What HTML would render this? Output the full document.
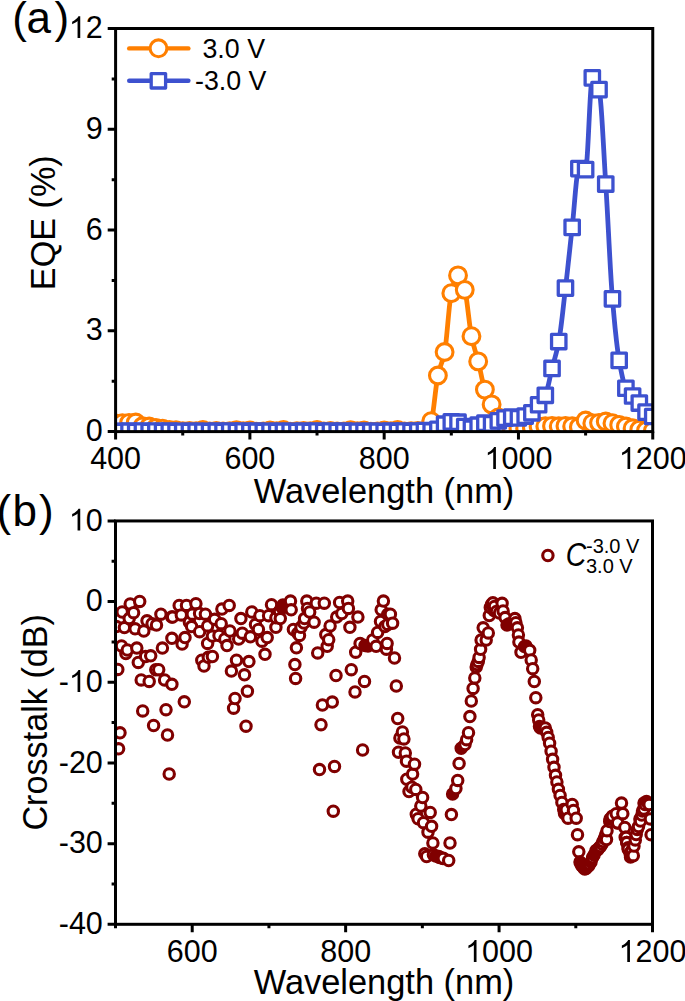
<!DOCTYPE html><html><head><meta charset="utf-8"><style>html,body{margin:0;padding:0;background:#fff;}svg{display:block;}text{font-family:"Liberation Sans",sans-serif;}</style></head><body>
<svg width="685" height="1001" viewBox="0 0 685 1001">
<rect width="685" height="1001" fill="#fff"/>
<defs><clipPath id="ca"><rect x="115.6" y="28.5" width="537.15" height="403.1"/></clipPath>
<clipPath id="cb"><rect x="115.5" y="520.95" width="537.0" height="403.3499999999999"/></clipPath></defs>
<g clip-path="url(#ca)">
<polyline points="115.60,423.54 116.27,423.50 116.94,423.47 117.61,423.44 118.29,423.40 118.96,423.37 119.63,423.34 120.30,423.30 120.97,423.27 121.64,423.24 122.31,423.20 122.99,423.17 123.66,423.13 124.33,423.10 125.00,423.07 125.67,423.03 126.34,423.00 127.01,422.97 127.69,422.93 128.36,422.90 129.03,422.87 129.70,422.83 130.37,422.79 131.04,422.74 131.71,422.70 132.39,422.66 133.06,422.62 133.73,422.58 134.40,422.55 135.07,422.54 135.74,422.53 136.41,422.63 137.09,422.89 137.76,423.29 138.43,423.77 139.10,424.30 139.77,424.84 140.44,425.34 141.11,425.76 141.79,426.07 142.46,426.23 143.13,426.28 143.80,426.32 144.47,426.35 145.14,426.38 145.81,426.40 146.49,426.42 147.16,426.45 147.83,426.48 148.50,426.51 149.17,426.56 149.84,426.63 150.51,426.74 151.19,426.87 151.86,427.03 152.53,427.19 153.20,427.35 153.87,427.52 154.54,427.67 155.21,427.80 155.89,427.90 156.56,427.99 157.23,428.06 157.90,428.13 158.57,428.18 159.24,428.24 159.91,428.30 160.59,428.36 161.26,428.42 161.93,428.49 162.60,428.58 163.27,428.68 163.94,428.81 164.61,428.96 165.29,429.13 165.96,429.29 166.63,429.46 167.30,429.61 167.97,429.74 168.64,429.85 169.31,429.92 169.99,429.97 170.66,430.01 171.33,430.04 172.00,430.07 172.67,430.09 173.34,430.12 174.02,430.15 174.69,430.18 175.36,430.21 176.03,430.26 176.70,430.32 177.37,430.41 178.04,430.52 178.72,430.65 179.39,430.77 180.06,430.89 180.73,431.00 181.40,431.09 182.07,431.14 182.74,431.17 183.42,431.16 184.09,431.15 184.76,431.14 185.43,431.12 186.10,431.10 186.77,431.08 187.44,431.06 188.12,431.05 188.79,431.04 189.46,431.03 190.13,431.04 190.80,431.05 191.47,431.07 192.14,431.10 192.82,431.12 193.49,431.15 194.16,431.18 194.83,431.20 195.50,431.21 196.17,431.22 196.84,431.18 197.52,431.08 198.19,430.94 198.86,430.77 199.53,430.58 200.20,430.39 200.87,430.22 201.54,430.08 202.22,429.98 202.89,429.95 203.56,429.99 204.23,430.11 204.90,430.29 205.57,430.50 206.24,430.73 206.92,430.97 207.59,431.18 208.26,431.36 208.93,431.48 209.60,431.52 210.27,431.50 210.94,431.45 211.62,431.38 212.29,431.29 212.96,431.19 213.63,431.09 214.30,431.00 214.97,430.92 215.64,430.87 216.32,430.85 216.99,430.87 217.66,430.92 218.33,430.99 219.00,431.07 219.67,431.16 220.34,431.25 221.02,431.34 221.69,431.41 222.36,431.46 223.03,431.47 223.70,431.47 224.37,431.47 225.04,431.46 225.72,431.44 226.39,431.43 227.06,431.41 227.73,431.39 228.40,431.37 229.07,431.34 229.74,431.32 230.42,431.26 231.09,431.16 231.76,431.02 232.43,430.85 233.10,430.68 233.77,430.51 234.44,430.35 235.12,430.23 235.79,430.14 236.46,430.11 237.13,430.14 237.80,430.23 238.47,430.37 239.14,430.53 239.82,430.71 240.49,430.89 241.16,431.05 241.83,431.19 242.50,431.28 243.17,431.31 243.84,431.29 244.52,431.22 245.19,431.12 245.86,431.00 246.53,430.87 247.20,430.74 247.87,430.61 248.54,430.51 249.22,430.45 249.89,430.42 250.56,430.46 251.23,430.55 251.90,430.69 252.57,430.86 253.24,431.05 253.92,431.24 254.59,431.41 255.26,431.55 255.93,431.64 256.60,431.68 257.27,431.67 257.94,431.66 258.62,431.64 259.29,431.61 259.96,431.58 260.63,431.54 261.30,431.49 261.97,431.45 262.64,431.40 263.32,431.36 263.99,431.30 264.66,431.21 265.33,431.11 266.00,431.00 266.67,430.89 267.34,430.78 268.02,430.68 268.69,430.60 269.36,430.55 270.03,430.53 270.70,430.55 271.37,430.60 272.04,430.68 272.72,430.78 273.39,430.88 274.06,430.98 274.73,431.08 275.40,431.16 276.07,431.21 276.75,431.23 277.42,431.20 278.09,431.11 278.76,430.98 279.43,430.82 280.10,430.64 280.77,430.47 281.45,430.31 282.12,430.18 282.79,430.09 283.46,430.06 284.13,430.10 284.80,430.22 285.47,430.40 286.15,430.61 286.82,430.84 287.49,431.08 288.16,431.29 288.83,431.47 289.50,431.59 290.17,431.63 290.85,431.62 291.52,431.60 292.19,431.56 292.86,431.51 293.53,431.45 294.20,431.39 294.87,431.33 295.55,431.28 296.22,431.24 296.89,431.21 297.56,431.18 298.23,431.16 298.90,431.14 299.57,431.11 300.25,431.09 300.92,431.08 301.59,431.06 302.26,431.05 302.93,431.04 303.60,431.04 304.27,431.05 304.95,431.07 305.62,431.10 306.29,431.13 306.96,431.17 307.63,431.21 308.30,431.24 308.97,431.27 309.65,431.29 310.32,431.30 310.99,431.26 311.66,431.16 312.33,431.00 313.00,430.82 313.67,430.61 314.35,430.41 315.02,430.23 315.69,430.07 316.36,429.97 317.03,429.93 317.70,429.97 318.37,430.09 319.05,430.26 319.72,430.47 320.39,430.69 321.06,430.91 321.73,431.12 322.40,431.29 323.07,431.41 323.75,431.45 324.42,431.43 325.09,431.39 325.76,431.32 326.43,431.24 327.10,431.15 327.77,431.06 328.45,430.97 329.12,430.91 329.79,430.86 330.46,430.84 331.13,430.86 331.80,430.91 332.47,430.97 333.15,431.05 333.82,431.14 334.49,431.23 335.16,431.31 335.83,431.38 336.50,431.43 337.17,431.44 337.85,431.44 338.52,431.44 339.19,431.44 339.86,431.44 340.53,431.44 341.20,431.43 341.87,431.43 342.55,431.43 343.22,431.42 343.89,431.42 344.56,431.38 345.23,431.28 345.90,431.13 346.57,430.96 347.25,430.76 347.92,430.57 348.59,430.40 349.26,430.25 349.93,430.16 350.60,430.12 351.27,430.15 351.95,430.24 352.62,430.37 353.29,430.53 353.96,430.70 354.63,430.88 355.30,431.04 355.97,431.17 356.65,431.26 357.32,431.29 357.99,431.26 358.66,431.19 359.33,431.09 360.00,430.97 360.67,430.84 361.35,430.70 362.02,430.58 362.69,430.48 363.36,430.41 364.03,430.39 364.70,430.42 365.37,430.51 366.05,430.65 366.72,430.82 367.39,431.00 368.06,431.18 368.73,431.34 369.40,431.48 370.07,431.57 370.75,431.61 371.42,431.61 372.09,431.60 372.76,431.59 373.43,431.57 374.10,431.56 374.77,431.54 375.45,431.52 376.12,431.49 376.79,431.46 377.46,431.44 378.13,431.39 378.80,431.31 379.47,431.20 380.15,431.08 380.82,430.96 381.49,430.84 382.16,430.73 382.83,430.64 383.50,430.58 384.17,430.55 384.85,430.57 385.52,430.63 386.19,430.71 386.86,430.80 387.53,430.91 388.20,431.02 388.88,431.11 389.55,431.19 390.22,431.25 390.89,431.27 391.56,431.23 392.23,431.14 392.90,431.00 393.58,430.83 394.25,430.65 394.92,430.46 395.59,430.29 396.26,430.15 396.93,430.06 397.60,430.02 398.28,430.07 398.95,430.18 399.62,430.35 400.29,430.56 400.96,430.78 401.63,431.01 402.30,431.22 402.98,431.39 403.65,431.50 404.32,431.54 404.99,431.54 405.66,431.52 406.33,431.49 407.00,431.46 407.68,431.42 408.35,431.38 409.02,431.34 409.69,431.30 410.36,431.27 411.03,431.24 411.70,431.21 412.38,431.19 413.05,431.16 413.72,431.14 414.39,431.11 415.06,431.09 415.73,431.07 416.40,431.06 417.08,431.05 417.75,431.04 418.42,431.05 419.09,431.08 419.76,431.12 420.43,431.16 421.10,431.21 421.78,431.26 422.45,431.31 423.12,431.35 423.79,431.37 424.46,431.38 425.13,431.25 425.80,430.86 426.48,430.23 427.15,429.39 427.82,428.37 428.49,427.18 429.16,425.84 429.83,424.38 430.50,422.82 431.18,421.19 431.85,418.84 432.52,415.30 433.19,410.82 433.86,405.69 434.53,400.14 435.20,394.45 435.88,388.88 436.55,383.69 437.22,379.15 437.89,375.50 438.56,372.63 439.23,370.16 439.90,367.98 440.58,365.98 441.25,364.06 441.92,362.12 442.59,360.05 443.26,357.74 443.93,355.09 444.60,351.99 445.28,347.87 445.95,342.45 446.62,336.07 447.29,329.08 447.96,321.81 448.63,314.61 449.30,307.80 449.98,301.74 450.65,296.76 451.32,293.20 451.99,290.49 452.66,287.85 453.33,285.34 454.00,283.00 454.68,280.88 455.35,279.04 456.02,277.52 456.69,276.38 457.36,275.65 458.03,275.40 458.70,275.60 459.38,276.20 460.05,277.13 460.72,278.37 461.39,279.87 462.06,281.59 462.73,283.49 463.40,285.52 464.08,287.65 464.75,289.84 465.42,292.63 466.09,296.44 466.76,301.04 467.43,306.20 468.10,311.69 468.78,317.30 469.45,322.78 470.12,327.90 470.79,332.46 471.46,336.20 472.13,339.31 472.80,342.15 473.48,344.76 474.15,347.21 474.82,349.55 475.49,351.83 476.16,354.10 476.83,356.41 477.50,358.83 478.18,361.39 478.85,364.17 479.52,367.11 480.19,370.18 480.86,373.30 481.53,376.40 482.20,379.44 482.88,382.34 483.55,385.04 484.22,387.49 484.89,389.61 485.56,391.47 486.23,393.19 486.90,394.78 487.58,396.27 488.25,397.69 488.92,399.05 489.59,400.38 490.26,401.70 490.93,403.03 491.61,404.39 492.28,405.77 492.95,407.14 493.62,408.49 494.29,409.83 494.96,411.15 495.63,412.46 496.31,413.74 496.98,415.01 497.65,416.26 498.32,417.49 498.99,418.80 499.66,420.24 500.33,421.75 501.01,423.27 501.68,424.73 502.35,426.06 503.02,427.21 503.69,428.12 504.36,428.70 505.03,428.91 505.71,428.91 506.38,428.91 507.05,428.91 507.72,428.91 508.39,428.91 509.06,428.91 509.73,428.91 510.41,428.91 511.08,428.91 511.75,428.91 512.42,428.89 513.09,428.84 513.76,428.77 514.43,428.68 515.11,428.58 515.78,428.48 516.45,428.39 517.12,428.31 517.79,428.26 518.46,428.24 519.13,428.24 519.81,428.24 520.48,428.24 521.15,428.24 521.82,428.24 522.49,428.24 523.16,428.24 523.83,428.24 524.51,428.24 525.18,428.24 525.85,428.23 526.52,428.20 527.19,428.15 527.86,428.08 528.53,428.01 529.21,427.92 529.88,427.83 530.55,427.74 531.22,427.65 531.89,427.57 532.56,427.48 533.23,427.38 533.91,427.26 534.58,427.15 535.25,427.03 535.92,426.91 536.59,426.80 537.26,426.70 537.93,426.62 538.61,426.56 539.28,426.51 539.95,426.47 540.62,426.44 541.29,426.40 541.96,426.37 542.63,426.34 543.31,426.32 543.98,426.29 544.65,426.26 545.32,426.23 545.99,426.19 546.66,426.15 547.33,426.10 548.01,426.06 548.68,426.02 549.35,425.98 550.02,425.94 550.69,425.91 551.36,425.90 552.03,425.89 552.71,425.90 553.38,425.92 554.05,425.96 554.72,426.01 555.39,426.06 556.06,426.11 556.73,426.15 557.41,426.19 558.08,426.22 558.75,426.23 559.42,426.22 560.09,426.19 560.76,426.15 561.43,426.11 562.11,426.06 562.78,426.01 563.45,425.96 564.12,425.92 564.79,425.90 565.46,425.89 566.13,425.89 566.81,425.91 567.48,425.93 568.15,425.96 568.82,426.00 569.49,426.04 570.16,426.09 570.83,426.13 571.51,426.18 572.18,426.23 572.85,426.28 573.52,426.35 574.19,426.44 574.86,426.53 575.53,426.62 576.21,426.70 576.88,426.78 577.55,426.84 578.22,426.88 578.89,426.90 579.56,426.72 580.23,426.23 580.91,425.52 581.58,424.65 582.25,423.71 582.92,422.76 583.59,421.89 584.26,421.18 584.93,420.69 585.61,420.51 586.28,420.59 586.95,420.79 587.62,421.10 588.29,421.46 588.96,421.86 589.63,422.26 590.31,422.62 590.98,422.92 591.65,423.13 592.32,423.20 592.99,423.20 593.66,423.18 594.33,423.16 595.01,423.14 595.68,423.10 596.35,423.06 597.02,423.02 597.69,422.97 598.36,422.92 599.03,422.87 599.71,422.79 600.38,422.66 601.05,422.50 601.72,422.32 602.39,422.13 603.06,421.94 603.74,421.78 604.41,421.65 605.08,421.56 605.75,421.52 606.42,421.55 607.09,421.64 607.76,421.78 608.44,421.95 609.11,422.15 609.78,422.37 610.45,422.59 611.12,422.81 611.79,423.02 612.46,423.20 613.14,423.37 613.81,423.54 614.48,423.71 615.15,423.87 615.82,424.04 616.49,424.21 617.16,424.38 617.84,424.55 618.51,424.71 619.18,424.88 619.85,425.05 620.52,425.22 621.19,425.39 621.86,425.55 622.54,425.72 623.21,425.89 623.88,426.06 624.55,426.23 625.22,426.39 625.89,426.56 626.56,426.73 627.24,426.90 627.91,427.08 628.58,427.25 629.25,427.42 629.92,427.60 630.59,427.76 631.26,427.93 631.94,428.09 632.61,428.24 633.28,428.39 633.95,428.53 634.62,428.68 635.29,428.82 635.96,428.96 636.64,429.09 637.31,429.22 637.98,429.35 638.65,429.47 639.32,429.58 639.99,429.70 640.66,429.82 641.34,429.94 642.01,430.06 642.68,430.17 643.35,430.28 644.02,430.37 644.69,430.46 645.36,430.53 646.04,430.59 646.71,430.64 647.38,430.69 648.05,430.74 648.72,430.78 649.39,430.82 650.06,430.86 650.74,430.89 651.41,430.91 652.08,430.92 652.75,430.93" fill="none" stroke="#FF7F00" stroke-width="4.8" stroke-linejoin="round"/>
<circle cx="115.60" cy="423.54" r="8.4" fill="#fff" stroke="#FF7F00" stroke-width="3.1"/>
<circle cx="122.31" cy="423.20" r="8.4" fill="#fff" stroke="#FF7F00" stroke-width="3.1"/>
<circle cx="129.03" cy="422.87" r="8.4" fill="#fff" stroke="#FF7F00" stroke-width="3.1"/>
<circle cx="135.74" cy="422.53" r="8.4" fill="#fff" stroke="#FF7F00" stroke-width="3.1"/>
<circle cx="142.46" cy="426.23" r="8.4" fill="#fff" stroke="#FF7F00" stroke-width="3.1"/>
<circle cx="149.17" cy="426.56" r="8.4" fill="#fff" stroke="#FF7F00" stroke-width="3.1"/>
<circle cx="155.89" cy="427.90" r="8.4" fill="#fff" stroke="#FF7F00" stroke-width="3.1"/>
<circle cx="162.60" cy="428.58" r="8.4" fill="#fff" stroke="#FF7F00" stroke-width="3.1"/>
<circle cx="169.31" cy="429.92" r="8.4" fill="#fff" stroke="#FF7F00" stroke-width="3.1"/>
<circle cx="176.03" cy="430.26" r="8.4" fill="#fff" stroke="#FF7F00" stroke-width="3.1"/>
<circle cx="182.74" cy="431.17" r="8.4" fill="#fff" stroke="#FF7F00" stroke-width="3.1"/>
<circle cx="189.46" cy="431.03" r="8.4" fill="#fff" stroke="#FF7F00" stroke-width="3.1"/>
<circle cx="196.17" cy="431.22" r="8.4" fill="#fff" stroke="#FF7F00" stroke-width="3.1"/>
<circle cx="202.89" cy="429.95" r="8.4" fill="#fff" stroke="#FF7F00" stroke-width="3.1"/>
<circle cx="209.60" cy="431.52" r="8.4" fill="#fff" stroke="#FF7F00" stroke-width="3.1"/>
<circle cx="216.32" cy="430.85" r="8.4" fill="#fff" stroke="#FF7F00" stroke-width="3.1"/>
<circle cx="223.03" cy="431.47" r="8.4" fill="#fff" stroke="#FF7F00" stroke-width="3.1"/>
<circle cx="229.74" cy="431.32" r="8.4" fill="#fff" stroke="#FF7F00" stroke-width="3.1"/>
<circle cx="236.46" cy="430.11" r="8.4" fill="#fff" stroke="#FF7F00" stroke-width="3.1"/>
<circle cx="243.17" cy="431.31" r="8.4" fill="#fff" stroke="#FF7F00" stroke-width="3.1"/>
<circle cx="249.89" cy="430.42" r="8.4" fill="#fff" stroke="#FF7F00" stroke-width="3.1"/>
<circle cx="256.60" cy="431.68" r="8.4" fill="#fff" stroke="#FF7F00" stroke-width="3.1"/>
<circle cx="263.32" cy="431.36" r="8.4" fill="#fff" stroke="#FF7F00" stroke-width="3.1"/>
<circle cx="270.03" cy="430.53" r="8.4" fill="#fff" stroke="#FF7F00" stroke-width="3.1"/>
<circle cx="276.75" cy="431.23" r="8.4" fill="#fff" stroke="#FF7F00" stroke-width="3.1"/>
<circle cx="283.46" cy="430.06" r="8.4" fill="#fff" stroke="#FF7F00" stroke-width="3.1"/>
<circle cx="290.17" cy="431.63" r="8.4" fill="#fff" stroke="#FF7F00" stroke-width="3.1"/>
<circle cx="296.89" cy="431.21" r="8.4" fill="#fff" stroke="#FF7F00" stroke-width="3.1"/>
<circle cx="303.60" cy="431.04" r="8.4" fill="#fff" stroke="#FF7F00" stroke-width="3.1"/>
<circle cx="310.32" cy="431.30" r="8.4" fill="#fff" stroke="#FF7F00" stroke-width="3.1"/>
<circle cx="317.03" cy="429.93" r="8.4" fill="#fff" stroke="#FF7F00" stroke-width="3.1"/>
<circle cx="323.75" cy="431.45" r="8.4" fill="#fff" stroke="#FF7F00" stroke-width="3.1"/>
<circle cx="330.46" cy="430.84" r="8.4" fill="#fff" stroke="#FF7F00" stroke-width="3.1"/>
<circle cx="337.17" cy="431.44" r="8.4" fill="#fff" stroke="#FF7F00" stroke-width="3.1"/>
<circle cx="343.89" cy="431.42" r="8.4" fill="#fff" stroke="#FF7F00" stroke-width="3.1"/>
<circle cx="350.60" cy="430.12" r="8.4" fill="#fff" stroke="#FF7F00" stroke-width="3.1"/>
<circle cx="357.32" cy="431.29" r="8.4" fill="#fff" stroke="#FF7F00" stroke-width="3.1"/>
<circle cx="364.03" cy="430.39" r="8.4" fill="#fff" stroke="#FF7F00" stroke-width="3.1"/>
<circle cx="370.75" cy="431.61" r="8.4" fill="#fff" stroke="#FF7F00" stroke-width="3.1"/>
<circle cx="377.46" cy="431.44" r="8.4" fill="#fff" stroke="#FF7F00" stroke-width="3.1"/>
<circle cx="384.17" cy="430.55" r="8.4" fill="#fff" stroke="#FF7F00" stroke-width="3.1"/>
<circle cx="390.89" cy="431.27" r="8.4" fill="#fff" stroke="#FF7F00" stroke-width="3.1"/>
<circle cx="397.60" cy="430.02" r="8.4" fill="#fff" stroke="#FF7F00" stroke-width="3.1"/>
<circle cx="404.32" cy="431.54" r="8.4" fill="#fff" stroke="#FF7F00" stroke-width="3.1"/>
<circle cx="411.03" cy="431.24" r="8.4" fill="#fff" stroke="#FF7F00" stroke-width="3.1"/>
<circle cx="417.75" cy="431.04" r="8.4" fill="#fff" stroke="#FF7F00" stroke-width="3.1"/>
<circle cx="424.46" cy="431.38" r="8.4" fill="#fff" stroke="#FF7F00" stroke-width="3.1"/>
<circle cx="431.18" cy="421.19" r="8.4" fill="#fff" stroke="#FF7F00" stroke-width="3.1"/>
<circle cx="437.89" cy="375.50" r="8.4" fill="#fff" stroke="#FF7F00" stroke-width="3.1"/>
<circle cx="444.60" cy="351.99" r="8.4" fill="#fff" stroke="#FF7F00" stroke-width="3.1"/>
<circle cx="451.32" cy="293.20" r="8.4" fill="#fff" stroke="#FF7F00" stroke-width="3.1"/>
<circle cx="458.03" cy="275.40" r="8.4" fill="#fff" stroke="#FF7F00" stroke-width="3.1"/>
<circle cx="464.75" cy="289.84" r="8.4" fill="#fff" stroke="#FF7F00" stroke-width="3.1"/>
<circle cx="471.46" cy="336.20" r="8.4" fill="#fff" stroke="#FF7F00" stroke-width="3.1"/>
<circle cx="478.18" cy="361.39" r="8.4" fill="#fff" stroke="#FF7F00" stroke-width="3.1"/>
<circle cx="484.89" cy="389.61" r="8.4" fill="#fff" stroke="#FF7F00" stroke-width="3.1"/>
<circle cx="491.61" cy="404.39" r="8.4" fill="#fff" stroke="#FF7F00" stroke-width="3.1"/>
<circle cx="498.32" cy="417.49" r="8.4" fill="#fff" stroke="#FF7F00" stroke-width="3.1"/>
<circle cx="505.03" cy="428.91" r="8.4" fill="#fff" stroke="#FF7F00" stroke-width="3.1"/>
<circle cx="511.75" cy="428.91" r="8.4" fill="#fff" stroke="#FF7F00" stroke-width="3.1"/>
<circle cx="518.46" cy="428.24" r="8.4" fill="#fff" stroke="#FF7F00" stroke-width="3.1"/>
<circle cx="525.18" cy="428.24" r="8.4" fill="#fff" stroke="#FF7F00" stroke-width="3.1"/>
<circle cx="531.89" cy="427.57" r="8.4" fill="#fff" stroke="#FF7F00" stroke-width="3.1"/>
<circle cx="538.61" cy="426.56" r="8.4" fill="#fff" stroke="#FF7F00" stroke-width="3.1"/>
<circle cx="545.32" cy="426.23" r="8.4" fill="#fff" stroke="#FF7F00" stroke-width="3.1"/>
<circle cx="552.03" cy="425.89" r="8.4" fill="#fff" stroke="#FF7F00" stroke-width="3.1"/>
<circle cx="558.75" cy="426.23" r="8.4" fill="#fff" stroke="#FF7F00" stroke-width="3.1"/>
<circle cx="565.46" cy="425.89" r="8.4" fill="#fff" stroke="#FF7F00" stroke-width="3.1"/>
<circle cx="572.18" cy="426.23" r="8.4" fill="#fff" stroke="#FF7F00" stroke-width="3.1"/>
<circle cx="578.89" cy="426.90" r="8.4" fill="#fff" stroke="#FF7F00" stroke-width="3.1"/>
<circle cx="585.61" cy="420.51" r="8.4" fill="#fff" stroke="#FF7F00" stroke-width="3.1"/>
<circle cx="592.32" cy="423.20" r="8.4" fill="#fff" stroke="#FF7F00" stroke-width="3.1"/>
<circle cx="599.03" cy="422.87" r="8.4" fill="#fff" stroke="#FF7F00" stroke-width="3.1"/>
<circle cx="605.75" cy="421.52" r="8.4" fill="#fff" stroke="#FF7F00" stroke-width="3.1"/>
<circle cx="612.46" cy="423.20" r="8.4" fill="#fff" stroke="#FF7F00" stroke-width="3.1"/>
<circle cx="619.18" cy="424.88" r="8.4" fill="#fff" stroke="#FF7F00" stroke-width="3.1"/>
<circle cx="625.89" cy="426.56" r="8.4" fill="#fff" stroke="#FF7F00" stroke-width="3.1"/>
<circle cx="632.61" cy="428.24" r="8.4" fill="#fff" stroke="#FF7F00" stroke-width="3.1"/>
<circle cx="639.32" cy="429.58" r="8.4" fill="#fff" stroke="#FF7F00" stroke-width="3.1"/>
<circle cx="646.04" cy="430.59" r="8.4" fill="#fff" stroke="#FF7F00" stroke-width="3.1"/>
<circle cx="652.75" cy="430.93" r="8.4" fill="#fff" stroke="#FF7F00" stroke-width="3.1"/>
<polyline points="115.60,431.33 116.27,431.38 116.94,431.41 117.61,431.44 118.29,431.46 118.96,431.48 119.63,431.50 120.30,431.51 120.97,431.52 121.64,431.52 122.31,431.52 122.99,431.51 123.66,431.49 124.33,431.46 125.00,431.42 125.67,431.37 126.34,431.33 127.01,431.29 127.69,431.25 128.36,431.23 129.03,431.22 129.70,431.23 130.37,431.26 131.04,431.31 131.71,431.36 132.39,431.42 133.06,431.48 133.73,431.53 134.40,431.58 135.07,431.61 135.74,431.62 136.41,431.61 137.09,431.57 137.76,431.52 138.43,431.45 139.10,431.38 139.77,431.31 140.44,431.25 141.11,431.20 141.79,431.16 142.46,431.15 143.13,431.16 143.80,431.20 144.47,431.26 145.14,431.33 145.81,431.41 146.49,431.48 147.16,431.55 147.83,431.61 148.50,431.65 149.17,431.67 149.84,431.65 150.51,431.61 151.19,431.55 151.86,431.48 152.53,431.40 153.20,431.32 153.87,431.25 154.54,431.19 155.21,431.15 155.89,431.13 156.56,431.15 157.23,431.19 157.90,431.24 158.57,431.31 159.24,431.39 159.91,431.47 160.59,431.54 161.26,431.60 161.93,431.64 162.60,431.65 163.27,431.64 163.94,431.60 164.61,431.55 165.29,431.48 165.96,431.41 166.63,431.34 167.30,431.28 167.97,431.23 168.64,431.19 169.31,431.18 169.99,431.19 170.66,431.22 171.33,431.26 172.00,431.32 172.67,431.38 173.34,431.44 174.02,431.49 174.69,431.54 175.36,431.57 176.03,431.58 176.70,431.57 177.37,431.55 178.04,431.51 178.72,431.47 179.39,431.43 180.06,431.38 180.73,431.34 181.40,431.30 182.07,431.28 182.74,431.27 183.42,431.28 184.09,431.29 184.76,431.31 185.43,431.34 186.10,431.37 186.77,431.40 187.44,431.42 188.12,431.44 188.79,431.46 189.46,431.46 190.13,431.46 190.80,431.46 191.47,431.45 192.14,431.45 192.82,431.44 193.49,431.43 194.16,431.42 194.83,431.41 195.50,431.40 196.17,431.40 196.84,431.39 197.52,431.38 198.19,431.37 198.86,431.37 199.53,431.36 200.20,431.35 200.87,431.34 201.54,431.34 202.22,431.34 202.89,431.34 203.56,431.34 204.23,431.35 204.90,431.38 205.57,431.40 206.24,431.43 206.92,431.46 207.59,431.48 208.26,431.50 208.93,431.52 209.60,431.52 210.27,431.51 210.94,431.49 211.62,431.46 212.29,431.42 212.96,431.37 213.63,431.33 214.30,431.29 214.97,431.25 215.64,431.23 216.32,431.22 216.99,431.23 217.66,431.26 218.33,431.31 219.00,431.36 219.67,431.42 220.34,431.48 221.02,431.53 221.69,431.58 222.36,431.61 223.03,431.62 223.70,431.61 224.37,431.57 225.04,431.52 225.72,431.45 226.39,431.38 227.06,431.31 227.73,431.25 228.40,431.20 229.07,431.16 229.74,431.15 230.42,431.16 231.09,431.20 231.76,431.26 232.43,431.33 233.10,431.41 233.77,431.48 234.44,431.55 235.12,431.61 235.79,431.65 236.46,431.67 237.13,431.65 237.80,431.61 238.47,431.55 239.14,431.48 239.82,431.40 240.49,431.32 241.16,431.25 241.83,431.19 242.50,431.15 243.17,431.13 243.84,431.15 244.52,431.19 245.19,431.24 245.86,431.31 246.53,431.39 247.20,431.47 247.87,431.54 248.54,431.60 249.22,431.64 249.89,431.65 250.56,431.64 251.23,431.60 251.90,431.55 252.57,431.48 253.24,431.41 253.92,431.34 254.59,431.28 255.26,431.23 255.93,431.19 256.60,431.18 257.27,431.19 257.94,431.22 258.62,431.26 259.29,431.32 259.96,431.38 260.63,431.44 261.30,431.49 261.97,431.54 262.64,431.57 263.32,431.58 263.99,431.57 264.66,431.55 265.33,431.51 266.00,431.47 266.67,431.43 267.34,431.38 268.02,431.34 268.69,431.30 269.36,431.28 270.03,431.27 270.70,431.28 271.37,431.29 272.04,431.31 272.72,431.34 273.39,431.37 274.06,431.40 274.73,431.42 275.40,431.44 276.07,431.46 276.75,431.46 277.42,431.46 278.09,431.46 278.76,431.45 279.43,431.45 280.10,431.44 280.77,431.43 281.45,431.42 282.12,431.41 282.79,431.40 283.46,431.40 284.13,431.39 284.80,431.38 285.47,431.37 286.15,431.37 286.82,431.36 287.49,431.35 288.16,431.34 288.83,431.34 289.50,431.34 290.17,431.34 290.85,431.34 291.52,431.35 292.19,431.38 292.86,431.40 293.53,431.43 294.20,431.46 294.87,431.48 295.55,431.50 296.22,431.52 296.89,431.52 297.56,431.51 298.23,431.49 298.90,431.46 299.57,431.42 300.25,431.37 300.92,431.33 301.59,431.29 302.26,431.25 302.93,431.23 303.60,431.22 304.27,431.23 304.95,431.26 305.62,431.31 306.29,431.36 306.96,431.42 307.63,431.48 308.30,431.53 308.97,431.58 309.65,431.61 310.32,431.62 310.99,431.61 311.66,431.57 312.33,431.52 313.00,431.45 313.67,431.38 314.35,431.31 315.02,431.25 315.69,431.20 316.36,431.16 317.03,431.15 317.70,431.16 318.37,431.20 319.05,431.26 319.72,431.33 320.39,431.41 321.06,431.48 321.73,431.55 322.40,431.61 323.07,431.65 323.75,431.67 324.42,431.65 325.09,431.61 325.76,431.55 326.43,431.48 327.10,431.40 327.77,431.32 328.45,431.25 329.12,431.19 329.79,431.15 330.46,431.13 331.13,431.15 331.80,431.19 332.47,431.24 333.15,431.31 333.82,431.39 334.49,431.47 335.16,431.54 335.83,431.60 336.50,431.64 337.17,431.65 337.85,431.64 338.52,431.60 339.19,431.55 339.86,431.48 340.53,431.41 341.20,431.34 341.87,431.28 342.55,431.23 343.22,431.19 343.89,431.18 344.56,431.19 345.23,431.22 345.90,431.26 346.57,431.32 347.25,431.38 347.92,431.44 348.59,431.49 349.26,431.54 349.93,431.57 350.60,431.58 351.27,431.57 351.95,431.55 352.62,431.51 353.29,431.47 353.96,431.43 354.63,431.38 355.30,431.34 355.97,431.30 356.65,431.28 357.32,431.27 357.99,431.28 358.66,431.29 359.33,431.31 360.00,431.34 360.67,431.37 361.35,431.40 362.02,431.42 362.69,431.44 363.36,431.46 364.03,431.46 364.70,431.46 365.37,431.46 366.05,431.45 366.72,431.45 367.39,431.44 368.06,431.43 368.73,431.42 369.40,431.41 370.07,431.40 370.75,431.40 371.42,431.39 372.09,431.38 372.76,431.37 373.43,431.37 374.10,431.36 374.77,431.35 375.45,431.34 376.12,431.34 376.79,431.34 377.46,431.34 378.13,431.34 378.80,431.35 379.47,431.38 380.15,431.40 380.82,431.43 381.49,431.46 382.16,431.48 382.83,431.50 383.50,431.52 384.17,431.52 384.85,431.51 385.52,431.49 386.19,431.46 386.86,431.42 387.53,431.37 388.20,431.33 388.88,431.29 389.55,431.25 390.22,431.23 390.89,431.22 391.56,431.23 392.23,431.26 392.90,431.31 393.58,431.36 394.25,431.42 394.92,431.48 395.59,431.53 396.26,431.58 396.93,431.61 397.60,431.62 398.28,431.61 398.95,431.57 399.62,431.52 400.29,431.45 400.96,431.38 401.63,431.31 402.30,431.25 402.98,431.20 403.65,431.16 404.32,431.15 404.99,431.16 405.66,431.20 406.33,431.26 407.00,431.33 407.68,431.41 408.35,431.48 409.02,431.55 409.69,431.61 410.36,431.65 411.03,431.67 411.70,431.65 412.38,431.63 413.05,431.58 413.72,431.53 414.39,431.47 415.06,431.40 415.73,431.33 416.40,431.26 417.08,431.19 417.75,431.13 418.42,431.07 419.09,431.01 419.76,430.94 420.43,430.86 421.10,430.79 421.78,430.73 422.45,430.67 423.12,430.63 423.79,430.60 424.46,430.59 425.13,430.60 425.80,430.63 426.48,430.66 427.15,430.71 427.82,430.76 428.49,430.81 429.16,430.86 429.83,430.89 430.50,430.92 431.18,430.93 431.85,430.90 432.52,430.83 433.19,430.72 433.86,430.58 434.53,430.40 435.20,430.20 435.88,429.98 436.55,429.75 437.22,429.50 437.89,429.25 438.56,428.93 439.23,428.50 439.90,427.99 440.58,427.42 441.25,426.82 441.92,426.20 442.59,425.61 443.26,425.06 443.93,424.59 444.60,424.21 445.28,423.88 445.95,423.55 446.62,423.23 447.29,422.92 447.96,422.63 448.63,422.38 449.30,422.16 449.98,422.00 450.65,421.90 451.32,421.86 451.99,421.86 452.66,421.87 453.33,421.89 454.00,421.92 454.68,421.95 455.35,421.99 456.02,422.03 456.69,422.08 457.36,422.13 458.03,422.19 458.70,422.35 459.38,422.65 460.05,423.08 460.72,423.59 461.39,424.15 462.06,424.73 462.73,425.30 463.40,425.82 464.08,426.25 464.75,426.56 465.42,426.80 466.09,427.05 466.76,427.28 467.43,427.50 468.10,427.70 468.78,427.88 469.45,428.03 470.12,428.14 470.79,428.22 471.46,428.24 472.13,428.18 472.80,428.00 473.48,427.74 474.15,427.41 474.82,427.03 475.49,426.63 476.16,426.23 476.83,425.84 477.50,425.50 478.18,425.22 478.85,424.97 479.52,424.70 480.19,424.43 480.86,424.16 481.53,423.91 482.20,423.68 482.88,423.49 483.55,423.33 484.22,423.24 484.89,423.20 485.56,423.22 486.23,423.27 486.90,423.35 487.58,423.44 488.25,423.54 488.92,423.64 489.59,423.73 490.26,423.80 490.93,423.86 491.61,423.87 492.28,423.81 492.95,423.65 493.62,423.40 494.29,423.08 494.96,422.72 495.63,422.32 496.31,421.92 496.98,421.53 497.65,421.17 498.32,420.85 498.99,420.56 499.66,420.25 500.33,419.94 501.01,419.64 501.68,419.33 502.35,419.05 503.02,418.78 503.69,418.54 504.36,418.33 505.03,418.16 505.71,418.02 506.38,417.87 507.05,417.73 507.72,417.60 508.39,417.48 509.06,417.37 509.73,417.28 510.41,417.21 511.08,417.17 511.75,417.16 512.42,417.17 513.09,417.23 513.76,417.30 514.43,417.39 515.11,417.49 515.78,417.59 516.45,417.68 517.12,417.76 517.79,417.81 518.46,417.83 519.13,417.80 519.81,417.72 520.48,417.61 521.15,417.45 521.82,417.27 522.49,417.06 523.16,416.84 523.83,416.61 524.51,416.38 525.18,416.15 525.85,415.92 526.52,415.66 527.19,415.39 527.86,415.10 528.53,414.78 529.21,414.44 529.88,414.07 530.55,413.67 531.22,413.25 531.89,412.79 532.56,412.26 533.23,411.62 533.91,410.90 534.58,410.10 535.25,409.25 535.92,408.36 536.59,407.45 537.26,406.52 537.93,405.61 538.61,404.73 539.28,403.89 539.95,403.08 540.62,402.30 541.29,401.50 541.96,400.68 542.63,399.80 543.31,398.85 543.98,397.80 544.65,396.63 545.32,395.32 545.99,393.68 546.66,391.60 547.33,389.16 548.01,386.43 548.68,383.50 549.35,380.44 550.02,377.32 550.69,374.24 551.36,371.25 552.03,368.45 552.71,365.84 553.38,363.36 554.05,360.95 554.72,358.55 555.39,356.12 556.06,353.60 556.73,350.94 557.41,348.09 558.08,344.98 558.75,341.57 559.42,337.69 560.09,333.26 560.76,328.36 561.43,323.08 562.11,317.51 562.78,311.72 563.45,305.81 564.12,299.85 564.79,293.94 565.46,288.16 566.13,282.39 566.81,276.47 567.48,270.44 568.15,264.31 568.82,258.13 569.49,251.91 570.16,245.70 570.83,239.52 571.51,233.40 572.18,227.36 572.85,220.87 573.52,213.60 574.19,205.88 574.86,198.06 575.53,190.50 576.21,183.53 576.88,177.51 577.55,172.78 578.22,169.69 578.89,168.58 579.56,168.61 580.23,168.68 580.91,168.79 581.58,168.93 582.25,169.08 582.92,169.23 583.59,169.37 584.26,169.48 584.93,169.56 585.61,169.58 586.28,167.02 586.95,160.05 587.62,149.78 588.29,137.30 588.96,123.73 589.63,110.16 590.31,97.69 590.98,87.42 591.65,80.45 592.32,77.88 592.99,78.02 593.66,78.43 594.33,79.10 595.01,80.01 595.68,81.14 596.35,82.49 597.02,84.02 597.69,85.74 598.36,87.61 599.03,89.64 599.71,93.04 600.38,98.81 601.05,106.57 601.72,115.93 602.39,126.49 603.06,137.89 603.74,149.72 604.41,161.62 605.08,173.18 605.75,184.03 606.42,194.92 607.09,206.68 607.76,219.03 608.44,231.70 609.11,244.41 609.78,256.89 610.45,268.85 611.12,280.03 611.79,290.14 612.46,298.91 613.14,306.78 613.81,314.33 614.48,321.55 615.15,328.40 615.82,334.87 616.49,340.91 617.16,346.51 617.84,351.64 618.51,356.28 619.18,360.39 619.85,364.16 620.52,367.81 621.19,371.29 621.86,374.56 622.54,377.61 623.21,380.39 623.88,382.88 624.55,385.05 625.22,386.85 625.89,388.27 626.56,389.40 627.24,390.38 627.91,391.25 628.58,392.02 629.25,392.72 629.92,393.37 630.59,394.00 631.26,394.63 631.94,395.29 632.61,395.99 633.28,396.72 633.95,397.42 634.62,398.10 635.29,398.78 635.96,399.45 636.64,400.13 637.31,400.82 637.98,401.53 638.65,402.27 639.32,403.05 639.99,403.89 640.66,404.82 641.34,405.80 642.01,406.82 642.68,407.84 643.35,408.84 644.02,409.79 644.69,410.67 645.36,411.46 646.04,412.12 646.71,412.70 647.38,413.26 648.05,413.80 648.72,414.31 649.39,414.79 650.06,415.22 650.74,415.62 651.41,415.96 652.08,416.25 652.75,416.48" fill="none" stroke="#3D51CF" stroke-width="4.8" stroke-linejoin="round"/>
<rect x="108.40" y="424.13" width="14.4" height="14.4" fill="#fff" stroke="#3D51CF" stroke-width="3.3" stroke-linejoin="round"/>
<rect x="115.11" y="424.32" width="14.4" height="14.4" fill="#fff" stroke="#3D51CF" stroke-width="3.3" stroke-linejoin="round"/>
<rect x="121.83" y="424.02" width="14.4" height="14.4" fill="#fff" stroke="#3D51CF" stroke-width="3.3" stroke-linejoin="round"/>
<rect x="128.54" y="424.42" width="14.4" height="14.4" fill="#fff" stroke="#3D51CF" stroke-width="3.3" stroke-linejoin="round"/>
<rect x="135.26" y="423.95" width="14.4" height="14.4" fill="#fff" stroke="#3D51CF" stroke-width="3.3" stroke-linejoin="round"/>
<rect x="141.97" y="424.47" width="14.4" height="14.4" fill="#fff" stroke="#3D51CF" stroke-width="3.3" stroke-linejoin="round"/>
<rect x="148.69" y="423.93" width="14.4" height="14.4" fill="#fff" stroke="#3D51CF" stroke-width="3.3" stroke-linejoin="round"/>
<rect x="155.40" y="424.45" width="14.4" height="14.4" fill="#fff" stroke="#3D51CF" stroke-width="3.3" stroke-linejoin="round"/>
<rect x="162.12" y="423.98" width="14.4" height="14.4" fill="#fff" stroke="#3D51CF" stroke-width="3.3" stroke-linejoin="round"/>
<rect x="168.83" y="424.38" width="14.4" height="14.4" fill="#fff" stroke="#3D51CF" stroke-width="3.3" stroke-linejoin="round"/>
<rect x="175.54" y="424.07" width="14.4" height="14.4" fill="#fff" stroke="#3D51CF" stroke-width="3.3" stroke-linejoin="round"/>
<rect x="182.26" y="424.26" width="14.4" height="14.4" fill="#fff" stroke="#3D51CF" stroke-width="3.3" stroke-linejoin="round"/>
<rect x="188.97" y="424.20" width="14.4" height="14.4" fill="#fff" stroke="#3D51CF" stroke-width="3.3" stroke-linejoin="round"/>
<rect x="195.69" y="424.14" width="14.4" height="14.4" fill="#fff" stroke="#3D51CF" stroke-width="3.3" stroke-linejoin="round"/>
<rect x="202.40" y="424.32" width="14.4" height="14.4" fill="#fff" stroke="#3D51CF" stroke-width="3.3" stroke-linejoin="round"/>
<rect x="209.12" y="424.02" width="14.4" height="14.4" fill="#fff" stroke="#3D51CF" stroke-width="3.3" stroke-linejoin="round"/>
<rect x="215.83" y="424.42" width="14.4" height="14.4" fill="#fff" stroke="#3D51CF" stroke-width="3.3" stroke-linejoin="round"/>
<rect x="222.54" y="423.95" width="14.4" height="14.4" fill="#fff" stroke="#3D51CF" stroke-width="3.3" stroke-linejoin="round"/>
<rect x="229.26" y="424.47" width="14.4" height="14.4" fill="#fff" stroke="#3D51CF" stroke-width="3.3" stroke-linejoin="round"/>
<rect x="235.97" y="423.93" width="14.4" height="14.4" fill="#fff" stroke="#3D51CF" stroke-width="3.3" stroke-linejoin="round"/>
<rect x="242.69" y="424.45" width="14.4" height="14.4" fill="#fff" stroke="#3D51CF" stroke-width="3.3" stroke-linejoin="round"/>
<rect x="249.40" y="423.98" width="14.4" height="14.4" fill="#fff" stroke="#3D51CF" stroke-width="3.3" stroke-linejoin="round"/>
<rect x="256.12" y="424.38" width="14.4" height="14.4" fill="#fff" stroke="#3D51CF" stroke-width="3.3" stroke-linejoin="round"/>
<rect x="262.83" y="424.07" width="14.4" height="14.4" fill="#fff" stroke="#3D51CF" stroke-width="3.3" stroke-linejoin="round"/>
<rect x="269.55" y="424.26" width="14.4" height="14.4" fill="#fff" stroke="#3D51CF" stroke-width="3.3" stroke-linejoin="round"/>
<rect x="276.26" y="424.20" width="14.4" height="14.4" fill="#fff" stroke="#3D51CF" stroke-width="3.3" stroke-linejoin="round"/>
<rect x="282.97" y="424.14" width="14.4" height="14.4" fill="#fff" stroke="#3D51CF" stroke-width="3.3" stroke-linejoin="round"/>
<rect x="289.69" y="424.32" width="14.4" height="14.4" fill="#fff" stroke="#3D51CF" stroke-width="3.3" stroke-linejoin="round"/>
<rect x="296.40" y="424.02" width="14.4" height="14.4" fill="#fff" stroke="#3D51CF" stroke-width="3.3" stroke-linejoin="round"/>
<rect x="303.12" y="424.42" width="14.4" height="14.4" fill="#fff" stroke="#3D51CF" stroke-width="3.3" stroke-linejoin="round"/>
<rect x="309.83" y="423.95" width="14.4" height="14.4" fill="#fff" stroke="#3D51CF" stroke-width="3.3" stroke-linejoin="round"/>
<rect x="316.55" y="424.47" width="14.4" height="14.4" fill="#fff" stroke="#3D51CF" stroke-width="3.3" stroke-linejoin="round"/>
<rect x="323.26" y="423.93" width="14.4" height="14.4" fill="#fff" stroke="#3D51CF" stroke-width="3.3" stroke-linejoin="round"/>
<rect x="329.97" y="424.45" width="14.4" height="14.4" fill="#fff" stroke="#3D51CF" stroke-width="3.3" stroke-linejoin="round"/>
<rect x="336.69" y="423.98" width="14.4" height="14.4" fill="#fff" stroke="#3D51CF" stroke-width="3.3" stroke-linejoin="round"/>
<rect x="343.40" y="424.38" width="14.4" height="14.4" fill="#fff" stroke="#3D51CF" stroke-width="3.3" stroke-linejoin="round"/>
<rect x="350.12" y="424.07" width="14.4" height="14.4" fill="#fff" stroke="#3D51CF" stroke-width="3.3" stroke-linejoin="round"/>
<rect x="356.83" y="424.26" width="14.4" height="14.4" fill="#fff" stroke="#3D51CF" stroke-width="3.3" stroke-linejoin="round"/>
<rect x="363.55" y="424.20" width="14.4" height="14.4" fill="#fff" stroke="#3D51CF" stroke-width="3.3" stroke-linejoin="round"/>
<rect x="370.26" y="424.14" width="14.4" height="14.4" fill="#fff" stroke="#3D51CF" stroke-width="3.3" stroke-linejoin="round"/>
<rect x="376.97" y="424.32" width="14.4" height="14.4" fill="#fff" stroke="#3D51CF" stroke-width="3.3" stroke-linejoin="round"/>
<rect x="383.69" y="424.02" width="14.4" height="14.4" fill="#fff" stroke="#3D51CF" stroke-width="3.3" stroke-linejoin="round"/>
<rect x="390.40" y="424.42" width="14.4" height="14.4" fill="#fff" stroke="#3D51CF" stroke-width="3.3" stroke-linejoin="round"/>
<rect x="397.12" y="423.95" width="14.4" height="14.4" fill="#fff" stroke="#3D51CF" stroke-width="3.3" stroke-linejoin="round"/>
<rect x="403.83" y="424.47" width="14.4" height="14.4" fill="#fff" stroke="#3D51CF" stroke-width="3.3" stroke-linejoin="round"/>
<rect x="410.55" y="423.93" width="14.4" height="14.4" fill="#fff" stroke="#3D51CF" stroke-width="3.3" stroke-linejoin="round"/>
<rect x="417.26" y="423.39" width="14.4" height="14.4" fill="#fff" stroke="#3D51CF" stroke-width="3.3" stroke-linejoin="round"/>
<rect x="423.98" y="423.73" width="14.4" height="14.4" fill="#fff" stroke="#3D51CF" stroke-width="3.3" stroke-linejoin="round"/>
<rect x="430.69" y="422.05" width="14.4" height="14.4" fill="#fff" stroke="#3D51CF" stroke-width="3.3" stroke-linejoin="round"/>
<rect x="437.40" y="417.01" width="14.4" height="14.4" fill="#fff" stroke="#3D51CF" stroke-width="3.3" stroke-linejoin="round"/>
<rect x="444.12" y="414.66" width="14.4" height="14.4" fill="#fff" stroke="#3D51CF" stroke-width="3.3" stroke-linejoin="round"/>
<rect x="450.83" y="414.99" width="14.4" height="14.4" fill="#fff" stroke="#3D51CF" stroke-width="3.3" stroke-linejoin="round"/>
<rect x="457.55" y="419.36" width="14.4" height="14.4" fill="#fff" stroke="#3D51CF" stroke-width="3.3" stroke-linejoin="round"/>
<rect x="464.26" y="421.04" width="14.4" height="14.4" fill="#fff" stroke="#3D51CF" stroke-width="3.3" stroke-linejoin="round"/>
<rect x="470.98" y="418.02" width="14.4" height="14.4" fill="#fff" stroke="#3D51CF" stroke-width="3.3" stroke-linejoin="round"/>
<rect x="477.69" y="416.00" width="14.4" height="14.4" fill="#fff" stroke="#3D51CF" stroke-width="3.3" stroke-linejoin="round"/>
<rect x="484.41" y="416.67" width="14.4" height="14.4" fill="#fff" stroke="#3D51CF" stroke-width="3.3" stroke-linejoin="round"/>
<rect x="491.12" y="413.65" width="14.4" height="14.4" fill="#fff" stroke="#3D51CF" stroke-width="3.3" stroke-linejoin="round"/>
<rect x="497.83" y="410.96" width="14.4" height="14.4" fill="#fff" stroke="#3D51CF" stroke-width="3.3" stroke-linejoin="round"/>
<rect x="504.55" y="409.96" width="14.4" height="14.4" fill="#fff" stroke="#3D51CF" stroke-width="3.3" stroke-linejoin="round"/>
<rect x="511.26" y="410.63" width="14.4" height="14.4" fill="#fff" stroke="#3D51CF" stroke-width="3.3" stroke-linejoin="round"/>
<rect x="517.98" y="408.95" width="14.4" height="14.4" fill="#fff" stroke="#3D51CF" stroke-width="3.3" stroke-linejoin="round"/>
<rect x="524.69" y="405.59" width="14.4" height="14.4" fill="#fff" stroke="#3D51CF" stroke-width="3.3" stroke-linejoin="round"/>
<rect x="531.41" y="397.53" width="14.4" height="14.4" fill="#fff" stroke="#3D51CF" stroke-width="3.3" stroke-linejoin="round"/>
<rect x="538.12" y="388.12" width="14.4" height="14.4" fill="#fff" stroke="#3D51CF" stroke-width="3.3" stroke-linejoin="round"/>
<rect x="544.83" y="361.25" width="14.4" height="14.4" fill="#fff" stroke="#3D51CF" stroke-width="3.3" stroke-linejoin="round"/>
<rect x="551.55" y="334.37" width="14.4" height="14.4" fill="#fff" stroke="#3D51CF" stroke-width="3.3" stroke-linejoin="round"/>
<rect x="558.26" y="280.96" width="14.4" height="14.4" fill="#fff" stroke="#3D51CF" stroke-width="3.3" stroke-linejoin="round"/>
<rect x="564.98" y="220.16" width="14.4" height="14.4" fill="#fff" stroke="#3D51CF" stroke-width="3.3" stroke-linejoin="round"/>
<rect x="571.69" y="161.38" width="14.4" height="14.4" fill="#fff" stroke="#3D51CF" stroke-width="3.3" stroke-linejoin="round"/>
<rect x="578.41" y="162.38" width="14.4" height="14.4" fill="#fff" stroke="#3D51CF" stroke-width="3.3" stroke-linejoin="round"/>
<rect x="585.12" y="70.68" width="14.4" height="14.4" fill="#fff" stroke="#3D51CF" stroke-width="3.3" stroke-linejoin="round"/>
<rect x="591.83" y="82.44" width="14.4" height="14.4" fill="#fff" stroke="#3D51CF" stroke-width="3.3" stroke-linejoin="round"/>
<rect x="598.55" y="176.83" width="14.4" height="14.4" fill="#fff" stroke="#3D51CF" stroke-width="3.3" stroke-linejoin="round"/>
<rect x="605.26" y="291.71" width="14.4" height="14.4" fill="#fff" stroke="#3D51CF" stroke-width="3.3" stroke-linejoin="round"/>
<rect x="611.98" y="353.19" width="14.4" height="14.4" fill="#fff" stroke="#3D51CF" stroke-width="3.3" stroke-linejoin="round"/>
<rect x="618.69" y="381.07" width="14.4" height="14.4" fill="#fff" stroke="#3D51CF" stroke-width="3.3" stroke-linejoin="round"/>
<rect x="625.41" y="388.79" width="14.4" height="14.4" fill="#fff" stroke="#3D51CF" stroke-width="3.3" stroke-linejoin="round"/>
<rect x="632.12" y="395.85" width="14.4" height="14.4" fill="#fff" stroke="#3D51CF" stroke-width="3.3" stroke-linejoin="round"/>
<rect x="638.84" y="404.92" width="14.4" height="14.4" fill="#fff" stroke="#3D51CF" stroke-width="3.3" stroke-linejoin="round"/>
<rect x="645.55" y="409.28" width="14.4" height="14.4" fill="#fff" stroke="#3D51CF" stroke-width="3.3" stroke-linejoin="round"/>
</g>
<g clip-path="url(#cb)" stroke="#800000" stroke-width="3.1">
<circle cx="116.4" cy="626.6" r="5.2" fill="#fff"/>
<circle cx="117.8" cy="669.4" r="5.2" fill="#fff"/>
<circle cx="118.6" cy="748.8" r="5.2" fill="#fff"/>
<circle cx="120.0" cy="732.8" r="5.2" fill="#fff"/>
<circle cx="121.5" cy="646.0" r="5.2" fill="#fff"/>
<circle cx="122.2" cy="612.0" r="5.2" fill="#fff"/>
<circle cx="124.4" cy="627.6" r="5.2" fill="#fff"/>
<circle cx="125.9" cy="653.6" r="5.2" fill="#fff"/>
<circle cx="127.3" cy="650.0" r="5.2" fill="#fff"/>
<circle cx="129.2" cy="618.6" r="5.2" fill="#fff"/>
<circle cx="130.2" cy="604.0" r="5.2" fill="#fff"/>
<circle cx="133.6" cy="612.7" r="5.2" fill="#fff"/>
<circle cx="135.1" cy="628.8" r="5.2" fill="#fff"/>
<circle cx="136.8" cy="648.1" r="5.2" fill="#fff"/>
<circle cx="138.3" cy="662.4" r="5.2" fill="#fff"/>
<circle cx="139.7" cy="601.4" r="5.2" fill="#fff"/>
<circle cx="141.2" cy="679.9" r="5.2" fill="#fff"/>
<circle cx="142.7" cy="710.9" r="5.2" fill="#fff"/>
<circle cx="143.8" cy="631.0" r="5.2" fill="#fff"/>
<circle cx="145.6" cy="656.5" r="5.2" fill="#fff"/>
<circle cx="147.0" cy="620.8" r="5.2" fill="#fff"/>
<circle cx="149.2" cy="681.4" r="5.2" fill="#fff"/>
<circle cx="150.7" cy="655.8" r="5.2" fill="#fff"/>
<circle cx="152.1" cy="623.7" r="5.2" fill="#fff"/>
<circle cx="153.6" cy="725.5" r="5.2" fill="#fff"/>
<circle cx="155.8" cy="669.7" r="5.2" fill="#fff"/>
<circle cx="156.5" cy="625.1" r="5.2" fill="#fff"/>
<circle cx="158.7" cy="669.7" r="5.2" fill="#fff"/>
<circle cx="160.9" cy="614.2" r="5.2" fill="#fff"/>
<circle cx="162.4" cy="648.1" r="5.2" fill="#fff"/>
<circle cx="164.6" cy="679.9" r="5.2" fill="#fff"/>
<circle cx="166.0" cy="709.7" r="5.2" fill="#fff"/>
<circle cx="167.5" cy="735.0" r="5.2" fill="#fff"/>
<circle cx="169.2" cy="774.0" r="5.2" fill="#fff"/>
<circle cx="171.8" cy="617.0" r="5.2" fill="#800000"/>
<circle cx="171.9" cy="638.3" r="5.2" fill="#fff"/>
<circle cx="171.9" cy="684.3" r="5.2" fill="#fff"/>
<circle cx="172.6" cy="617.1" r="5.2" fill="#fff"/>
<circle cx="179.2" cy="605.4" r="5.2" fill="#fff"/>
<circle cx="181.3" cy="614.9" r="5.2" fill="#fff"/>
<circle cx="182.1" cy="644.1" r="5.2" fill="#fff"/>
<circle cx="184.3" cy="701.8" r="5.2" fill="#fff"/>
<circle cx="185.0" cy="637.6" r="5.2" fill="#fff"/>
<circle cx="186.5" cy="605.4" r="5.2" fill="#fff"/>
<circle cx="189.4" cy="622.2" r="5.2" fill="#fff"/>
<circle cx="191.6" cy="626.6" r="5.2" fill="#fff"/>
<circle cx="192.3" cy="614.2" r="5.2" fill="#fff"/>
<circle cx="195.9" cy="603.7" r="5.2" fill="#fff"/>
<circle cx="199.6" cy="613.5" r="5.2" fill="#fff"/>
<circle cx="199.6" cy="631.7" r="5.2" fill="#fff"/>
<circle cx="201.8" cy="660.2" r="5.2" fill="#fff"/>
<circle cx="204.0" cy="666.0" r="5.2" fill="#fff"/>
<circle cx="205.4" cy="614.2" r="5.2" fill="#fff"/>
<circle cx="207.6" cy="625.9" r="5.2" fill="#fff"/>
<circle cx="207.6" cy="643.4" r="5.2" fill="#fff"/>
<circle cx="208.3" cy="657.3" r="5.2" fill="#fff"/>
<circle cx="212.4" cy="636.1" r="5.2" fill="#fff"/>
<circle cx="212.4" cy="656.5" r="5.2" fill="#fff"/>
<circle cx="214.6" cy="619.3" r="5.2" fill="#fff"/>
<circle cx="219.0" cy="635.4" r="5.2" fill="#fff"/>
<circle cx="221.2" cy="623.7" r="5.2" fill="#fff"/>
<circle cx="221.9" cy="609.1" r="5.2" fill="#fff"/>
<circle cx="224.8" cy="639.0" r="5.2" fill="#fff"/>
<circle cx="227.0" cy="645.6" r="5.2" fill="#fff"/>
<circle cx="229.2" cy="605.4" r="5.2" fill="#fff"/>
<circle cx="229.9" cy="631.0" r="5.2" fill="#fff"/>
<circle cx="231.4" cy="671.1" r="5.2" fill="#fff"/>
<circle cx="233.6" cy="708.2" r="5.2" fill="#fff"/>
<circle cx="235.0" cy="698.5" r="5.2" fill="#fff"/>
<circle cx="236.5" cy="660.2" r="5.2" fill="#fff"/>
<circle cx="238.7" cy="639.0" r="5.2" fill="#fff"/>
<circle cx="240.9" cy="618.6" r="5.2" fill="#fff"/>
<circle cx="242.3" cy="633.2" r="5.2" fill="#fff"/>
<circle cx="244.5" cy="674.8" r="5.2" fill="#fff"/>
<circle cx="246.0" cy="726.2" r="5.2" fill="#fff"/>
<circle cx="247.4" cy="691.2" r="5.2" fill="#fff"/>
<circle cx="248.9" cy="661.6" r="5.2" fill="#fff"/>
<circle cx="250.4" cy="636.8" r="5.2" fill="#fff"/>
<circle cx="251.8" cy="612.0" r="5.2" fill="#fff"/>
<circle cx="255.5" cy="624.4" r="5.2" fill="#fff"/>
<circle cx="258.4" cy="629.5" r="5.2" fill="#fff"/>
<circle cx="259.9" cy="615.7" r="5.2" fill="#fff"/>
<circle cx="262.0" cy="641.2" r="5.2" fill="#fff"/>
<circle cx="265.0" cy="654.3" r="5.2" fill="#fff"/>
<circle cx="267.2" cy="637.6" r="5.2" fill="#fff"/>
<circle cx="268.6" cy="615.7" r="5.2" fill="#fff"/>
<circle cx="271.5" cy="604.7" r="5.2" fill="#fff"/>
<circle cx="275.9" cy="627.3" r="5.2" fill="#fff"/>
<circle cx="275.9" cy="617.8" r="5.2" fill="#fff"/>
<circle cx="279.5" cy="611.5" r="5.2" fill="#fff"/>
<circle cx="280.3" cy="618.6" r="5.2" fill="#fff"/>
<circle cx="281.8" cy="606.9" r="5.2" fill="#fff"/>
<circle cx="283.0" cy="605.0" r="5.2" fill="#800000"/>
<circle cx="290.5" cy="601.1" r="5.2" fill="#fff"/>
<circle cx="291.2" cy="609.8" r="5.2" fill="#fff"/>
<circle cx="293.4" cy="629.5" r="5.2" fill="#fff"/>
<circle cx="294.9" cy="664.6" r="5.2" fill="#fff"/>
<circle cx="295.6" cy="678.4" r="5.2" fill="#fff"/>
<circle cx="296.4" cy="647.8" r="5.2" fill="#fff"/>
<circle cx="297.8" cy="633.2" r="5.2" fill="#fff"/>
<circle cx="299.5" cy="635.4" r="5.2" fill="#fff"/>
<circle cx="301.0" cy="627.3" r="5.2" fill="#fff"/>
<circle cx="303.9" cy="623.0" r="5.2" fill="#fff"/>
<circle cx="304.6" cy="618.6" r="5.2" fill="#fff"/>
<circle cx="306.8" cy="601.1" r="5.2" fill="#fff"/>
<circle cx="307.5" cy="608.4" r="5.2" fill="#fff"/>
<circle cx="309.7" cy="612.0" r="5.2" fill="#fff"/>
<circle cx="314.1" cy="622.2" r="5.2" fill="#fff"/>
<circle cx="316.3" cy="603.2" r="5.2" fill="#fff"/>
<circle cx="317.7" cy="652.9" r="5.2" fill="#fff"/>
<circle cx="319.5" cy="769.6" r="5.2" fill="#fff"/>
<circle cx="321.0" cy="724.7" r="5.2" fill="#fff"/>
<circle cx="322.4" cy="705.0" r="5.2" fill="#fff"/>
<circle cx="324.3" cy="603.2" r="5.2" fill="#fff"/>
<circle cx="325.8" cy="634.6" r="5.2" fill="#fff"/>
<circle cx="327.2" cy="646.3" r="5.2" fill="#fff"/>
<circle cx="328.7" cy="639.7" r="5.2" fill="#fff"/>
<circle cx="330.1" cy="625.9" r="5.2" fill="#fff"/>
<circle cx="332.3" cy="702.1" r="5.2" fill="#fff"/>
<circle cx="333.3" cy="811.2" r="5.2" fill="#fff"/>
<circle cx="334.5" cy="766.4" r="5.2" fill="#fff"/>
<circle cx="336.0" cy="675.5" r="5.2" fill="#fff"/>
<circle cx="336.7" cy="617.1" r="5.2" fill="#fff"/>
<circle cx="339.6" cy="602.5" r="5.2" fill="#fff"/>
<circle cx="341.8" cy="613.5" r="5.2" fill="#fff"/>
<circle cx="347.7" cy="601.1" r="5.2" fill="#fff"/>
<circle cx="348.4" cy="608.4" r="5.2" fill="#fff"/>
<circle cx="349.9" cy="627.3" r="5.2" fill="#fff"/>
<circle cx="351.3" cy="669.7" r="5.2" fill="#fff"/>
<circle cx="355.0" cy="691.9" r="5.2" fill="#fff"/>
<circle cx="355.7" cy="652.2" r="5.2" fill="#fff"/>
<circle cx="357.9" cy="617.1" r="5.2" fill="#fff"/>
<circle cx="360.1" cy="643.4" r="5.2" fill="#fff"/>
<circle cx="362.6" cy="750.0" r="5.2" fill="#fff"/>
<circle cx="364.5" cy="681.4" r="5.2" fill="#fff"/>
<circle cx="365.0" cy="645.5" r="5.2" fill="#800000"/>
<circle cx="368.0" cy="646.0" r="5.2" fill="#800000"/>
<circle cx="372.7" cy="639.9" r="5.2" fill="#fff"/>
<circle cx="376.1" cy="646.3" r="5.2" fill="#fff"/>
<circle cx="377.6" cy="632.4" r="5.2" fill="#fff"/>
<circle cx="380.5" cy="621.5" r="5.2" fill="#fff"/>
<circle cx="381.2" cy="609.8" r="5.2" fill="#fff"/>
<circle cx="383.4" cy="601.1" r="5.2" fill="#fff"/>
<circle cx="384.9" cy="626.6" r="5.2" fill="#fff"/>
<circle cx="386.4" cy="649.2" r="5.2" fill="#fff"/>
<circle cx="387.1" cy="643.4" r="5.2" fill="#fff"/>
<circle cx="387.8" cy="614.2" r="5.2" fill="#fff"/>
<circle cx="387.8" cy="624.4" r="5.2" fill="#fff"/>
<circle cx="390.4" cy="614.2" r="5.2" fill="#fff"/>
<circle cx="392.6" cy="623.2" r="5.2" fill="#fff"/>
<circle cx="394.5" cy="658.0" r="5.2" fill="#fff"/>
<circle cx="396.3" cy="686.0" r="5.2" fill="#fff"/>
<circle cx="397.7" cy="718.5" r="5.2" fill="#fff"/>
<circle cx="398.5" cy="752.2" r="5.2" fill="#fff"/>
<circle cx="399.9" cy="737.9" r="5.2" fill="#fff"/>
<circle cx="402.4" cy="732.0" r="5.2" fill="#fff"/>
<circle cx="403.9" cy="738.9" r="5.2" fill="#fff"/>
<circle cx="405.3" cy="752.9" r="5.2" fill="#fff"/>
<circle cx="406.5" cy="761.2" r="5.2" fill="#fff"/>
<circle cx="406.8" cy="779.2" r="5.2" fill="#fff"/>
<circle cx="409.0" cy="791.6" r="5.2" fill="#fff"/>
<circle cx="411.9" cy="787.2" r="5.2" fill="#fff"/>
<circle cx="412.6" cy="774.1" r="5.2" fill="#fff"/>
<circle cx="414.5" cy="764.2" r="5.2" fill="#fff"/>
<circle cx="415.8" cy="789.4" r="5.2" fill="#fff"/>
<circle cx="416.3" cy="814.2" r="5.2" fill="#fff"/>
<circle cx="418.1" cy="818.7" r="5.2" fill="#fff"/>
<circle cx="420.8" cy="806.1" r="5.2" fill="#fff"/>
<circle cx="422.6" cy="797.5" r="5.2" fill="#fff"/>
<circle cx="423.5" cy="822.7" r="5.2" fill="#fff"/>
<circle cx="424.8" cy="853.8" r="5.2" fill="#fff"/>
<circle cx="426.6" cy="856.5" r="5.2" fill="#fff"/>
<circle cx="428.0" cy="832.2" r="5.2" fill="#fff"/>
<circle cx="430.2" cy="812.4" r="5.2" fill="#fff"/>
<circle cx="431.6" cy="826.3" r="5.2" fill="#fff"/>
<circle cx="432.9" cy="843.0" r="5.2" fill="#fff"/>
<circle cx="433.4" cy="854.7" r="5.2" fill="#fff"/>
<circle cx="435.8" cy="856.0" r="5.2" fill="#800000"/>
<circle cx="438.8" cy="856.5" r="5.2" fill="#fff"/>
<circle cx="439.5" cy="857.5" r="5.2" fill="#800000"/>
<circle cx="443.0" cy="858.5" r="5.2" fill="#800000"/>
<circle cx="443.3" cy="858.3" r="5.2" fill="#fff"/>
<circle cx="448.7" cy="860.5" r="5.2" fill="#fff"/>
<circle cx="450.0" cy="843.0" r="5.2" fill="#fff"/>
<circle cx="451.4" cy="814.6" r="5.2" fill="#fff"/>
<circle cx="452.6" cy="794.0" r="5.2" fill="#800000"/>
<circle cx="455.9" cy="788.5" r="5.2" fill="#fff"/>
<circle cx="457.7" cy="780.4" r="5.2" fill="#fff"/>
<circle cx="459.1" cy="763.5" r="5.2" fill="#fff"/>
<circle cx="461.2" cy="748.2" r="5.2" fill="#800000"/>
<circle cx="465.0" cy="744.6" r="5.2" fill="#fff"/>
<circle cx="466.6" cy="739.7" r="5.2" fill="#fff"/>
<circle cx="468.5" cy="732.7" r="5.2" fill="#fff"/>
<circle cx="469.9" cy="716.6" r="5.2" fill="#fff"/>
<circle cx="471.3" cy="701.0" r="5.2" fill="#fff"/>
<circle cx="473.1" cy="688.4" r="5.2" fill="#fff"/>
<circle cx="474.8" cy="677.9" r="5.2" fill="#fff"/>
<circle cx="476.2" cy="667.0" r="5.2" fill="#fff"/>
<circle cx="477.0" cy="664.6" r="5.2" fill="#fff"/>
<circle cx="478.3" cy="661.4" r="5.2" fill="#fff"/>
<circle cx="479.1" cy="657.4" r="5.2" fill="#fff"/>
<circle cx="480.6" cy="649.3" r="5.2" fill="#fff"/>
<circle cx="481.1" cy="640.1" r="5.2" fill="#fff"/>
<circle cx="483.2" cy="627.8" r="5.2" fill="#fff"/>
<circle cx="486.2" cy="640.1" r="5.2" fill="#fff"/>
<circle cx="488.3" cy="632.9" r="5.2" fill="#fff"/>
<circle cx="489.3" cy="615.5" r="5.2" fill="#fff"/>
<circle cx="490.3" cy="607.4" r="5.2" fill="#fff"/>
<circle cx="491.5" cy="604.5" r="5.2" fill="#fff"/>
<circle cx="492.9" cy="602.8" r="5.2" fill="#fff"/>
<circle cx="493.9" cy="610.4" r="5.2" fill="#fff"/>
<circle cx="494.5" cy="606.5" r="5.2" fill="#fff"/>
<circle cx="496.5" cy="611.5" r="5.2" fill="#fff"/>
<circle cx="499.5" cy="613.0" r="5.2" fill="#fff"/>
<circle cx="502.1" cy="603.3" r="5.2" fill="#fff"/>
<circle cx="503.1" cy="611.0" r="5.2" fill="#fff"/>
<circle cx="505.1" cy="617.6" r="5.2" fill="#fff"/>
<circle cx="507.0" cy="625.0" r="5.2" fill="#800000"/>
<circle cx="509.2" cy="623.8" r="5.2" fill="#800000"/>
<circle cx="514.9" cy="618.6" r="5.2" fill="#fff"/>
<circle cx="515.9" cy="622.7" r="5.2" fill="#fff"/>
<circle cx="517.4" cy="627.8" r="5.2" fill="#fff"/>
<circle cx="518.4" cy="635.0" r="5.2" fill="#fff"/>
<circle cx="518.9" cy="642.1" r="5.2" fill="#fff"/>
<circle cx="521.0" cy="652.3" r="5.2" fill="#fff"/>
<circle cx="524.5" cy="646.5" r="5.2" fill="#800000"/>
<circle cx="526.0" cy="646.0" r="5.2" fill="#800000"/>
<circle cx="529.7" cy="650.3" r="5.2" fill="#fff"/>
<circle cx="531.2" cy="660.0" r="5.2" fill="#fff"/>
<circle cx="532.7" cy="668.7" r="5.2" fill="#fff"/>
<circle cx="534.3" cy="681.5" r="5.2" fill="#fff"/>
<circle cx="535.8" cy="697.7" r="5.2" fill="#fff"/>
<circle cx="537.7" cy="714.7" r="5.2" fill="#fff"/>
<circle cx="538.7" cy="719.9" r="5.2" fill="#fff"/>
<circle cx="539.5" cy="726.5" r="5.2" fill="#800000"/>
<circle cx="540.5" cy="728.0" r="5.2" fill="#800000"/>
<circle cx="545.3" cy="727.9" r="5.2" fill="#fff"/>
<circle cx="546.7" cy="732.3" r="5.2" fill="#fff"/>
<circle cx="548.2" cy="737.4" r="5.2" fill="#fff"/>
<circle cx="549.6" cy="743.2" r="5.2" fill="#fff"/>
<circle cx="551.1" cy="751.2" r="5.2" fill="#fff"/>
<circle cx="552.6" cy="759.3" r="5.2" fill="#fff"/>
<circle cx="554.0" cy="767.3" r="5.2" fill="#fff"/>
<circle cx="555.5" cy="775.3" r="5.2" fill="#fff"/>
<circle cx="556.9" cy="781.9" r="5.2" fill="#fff"/>
<circle cx="558.4" cy="789.3" r="5.2" fill="#fff"/>
<circle cx="560.1" cy="795.4" r="5.2" fill="#fff"/>
<circle cx="561.9" cy="802.4" r="5.2" fill="#fff"/>
<circle cx="563.7" cy="809.4" r="5.2" fill="#fff"/>
<circle cx="564.5" cy="813.5" r="5.2" fill="#800000"/>
<circle cx="566.3" cy="814.7" r="5.2" fill="#fff"/>
<circle cx="566.3" cy="809.7" r="5.2" fill="#fff"/>
<circle cx="568.0" cy="818.2" r="5.2" fill="#fff"/>
<circle cx="572.2" cy="804.5" r="5.2" fill="#fff"/>
<circle cx="573.5" cy="810.4" r="5.2" fill="#fff"/>
<circle cx="576.2" cy="818.2" r="5.2" fill="#fff"/>
<circle cx="577.5" cy="834.7" r="5.2" fill="#fff"/>
<circle cx="578.8" cy="851.8" r="5.2" fill="#fff"/>
<circle cx="580.0" cy="862.0" r="5.2" fill="#fff"/>
<circle cx="581.0" cy="864.0" r="5.2" fill="#800000"/>
<circle cx="582.0" cy="866.0" r="5.2" fill="#fff"/>
<circle cx="583.5" cy="867.5" r="5.2" fill="#800000"/>
<circle cx="584.7" cy="869.0" r="5.2" fill="#fff"/>
<circle cx="586.0" cy="868.5" r="5.2" fill="#800000"/>
<circle cx="587.0" cy="867.0" r="5.2" fill="#fff"/>
<circle cx="588.5" cy="866.0" r="5.2" fill="#800000"/>
<circle cx="589.5" cy="864.0" r="5.2" fill="#fff"/>
<circle cx="591.0" cy="862.0" r="5.2" fill="#800000"/>
<circle cx="592.6" cy="857.6" r="5.2" fill="#fff"/>
<circle cx="594.0" cy="855.0" r="5.2" fill="#800000"/>
<circle cx="596.0" cy="850.6" r="5.2" fill="#fff"/>
<circle cx="597.5" cy="850.0" r="5.2" fill="#800000"/>
<circle cx="599.2" cy="847.8" r="5.2" fill="#fff"/>
<circle cx="600.5" cy="846.5" r="5.2" fill="#fff"/>
<circle cx="602.0" cy="844.0" r="5.2" fill="#fff"/>
<circle cx="603.0" cy="841.5" r="5.2" fill="#fff"/>
<circle cx="604.4" cy="838.6" r="5.2" fill="#fff"/>
<circle cx="605.5" cy="835.0" r="5.2" fill="#fff"/>
<circle cx="606.5" cy="839.6" r="5.2" fill="#fff"/>
<circle cx="607.0" cy="830.7" r="5.2" fill="#fff"/>
<circle cx="609.7" cy="821.5" r="5.2" fill="#fff"/>
<circle cx="610.0" cy="819.0" r="5.2" fill="#800000"/>
<circle cx="612.3" cy="816.3" r="5.2" fill="#fff"/>
<circle cx="616.2" cy="813.7" r="5.2" fill="#fff"/>
<circle cx="617.4" cy="823.0" r="5.2" fill="#fff"/>
<circle cx="617.6" cy="822.8" r="5.2" fill="#fff"/>
<circle cx="621.5" cy="803.1" r="5.2" fill="#fff"/>
<circle cx="622.8" cy="813.7" r="5.2" fill="#fff"/>
<circle cx="624.8" cy="827.4" r="5.2" fill="#fff"/>
<circle cx="625.2" cy="837.2" r="5.2" fill="#fff"/>
<circle cx="626.1" cy="837.3" r="5.2" fill="#fff"/>
<circle cx="626.7" cy="842.5" r="5.2" fill="#fff"/>
<circle cx="626.8" cy="842.6" r="5.2" fill="#fff"/>
<circle cx="628.1" cy="847.8" r="5.2" fill="#fff"/>
<circle cx="628.2" cy="849.2" r="5.2" fill="#fff"/>
<circle cx="630.0" cy="853.1" r="5.2" fill="#fff"/>
<circle cx="630.5" cy="857.0" r="5.2" fill="#800000"/>
<circle cx="632.0" cy="855.5" r="5.2" fill="#800000"/>
<circle cx="632.0" cy="850.0" r="5.2" fill="#fff"/>
<circle cx="633.3" cy="855.7" r="5.2" fill="#fff"/>
<circle cx="634.0" cy="846.0" r="5.2" fill="#fff"/>
<circle cx="635.3" cy="839.9" r="5.2" fill="#fff"/>
<circle cx="636.2" cy="834.5" r="5.2" fill="#fff"/>
<circle cx="637.3" cy="829.4" r="5.2" fill="#fff"/>
<circle cx="638.5" cy="826.5" r="5.2" fill="#fff"/>
<circle cx="639.9" cy="818.9" r="5.2" fill="#fff"/>
<circle cx="640.5" cy="821.0" r="5.2" fill="#fff"/>
<circle cx="641.8" cy="815.0" r="5.2" fill="#fff"/>
<circle cx="642.5" cy="811.0" r="5.2" fill="#fff"/>
<circle cx="643.8" cy="809.0" r="5.2" fill="#fff"/>
<circle cx="644.0" cy="803.0" r="5.2" fill="#800000"/>
<circle cx="645.1" cy="804.5" r="5.2" fill="#fff"/>
<circle cx="646.5" cy="801.5" r="5.2" fill="#800000"/>
<circle cx="649.1" cy="804.5" r="5.2" fill="#fff"/>
<circle cx="650.4" cy="818.9" r="5.2" fill="#fff"/>
<circle cx="651.1" cy="834.7" r="5.2" fill="#fff"/>
</g>
<rect x="115.6" y="28.5" width="537.15" height="403.1" fill="none" stroke="#000" stroke-width="3.0"/>
<rect x="115.5" y="520.95" width="537.0" height="403.3499999999999" fill="none" stroke="#000" stroke-width="3.0"/>
<path d="M107.69999999999999,431.60H115.6 M107.69999999999999,330.82H115.6 M107.69999999999999,230.05H115.6 M107.69999999999999,129.28H115.6 M107.69999999999999,28.50H115.6 M111.69999999999999,381.21H115.6 M111.69999999999999,280.44H115.6 M111.69999999999999,179.66H115.6 M111.69999999999999,78.89H115.6 M115.60,431.6V439.5 M249.89,431.6V439.5 M384.17,431.6V439.5 M518.46,431.6V439.5 M652.75,431.6V439.5 M182.74,431.6V435.5 M317.03,431.6V435.5 M451.32,431.6V435.5 M585.61,431.6V435.5 M107.6,520.95H115.5 M107.6,601.62H115.5 M107.6,682.29H115.5 M107.6,762.96H115.5 M107.6,843.63H115.5 M107.6,924.30H115.5 M111.6,561.29H115.5 M111.6,641.96H115.5 M111.6,722.62H115.5 M111.6,803.29H115.5 M111.6,883.96H115.5 M192.21,924.3V932.1999999999999 M345.64,924.3V932.1999999999999 M499.07,924.3V932.1999999999999 M652.50,924.3V932.1999999999999 M115.50,924.3V928.1999999999999 M268.93,924.3V928.1999999999999 M422.36,924.3V928.1999999999999 M575.79,924.3V928.1999999999999" stroke="#000" stroke-width="3.0" fill="none"/>
<text x="85.84" y="441.20" font-size="30.5" xml:space="preserve">0</text>
<text x="85.84" y="340.43" font-size="30.5" xml:space="preserve">3</text>
<text x="85.84" y="239.65" font-size="30.5" xml:space="preserve">6</text>
<text x="85.84" y="138.88" font-size="30.5" xml:space="preserve">9</text>
<path d="M763,0L583,0L583,1147Q518,1085 412,1023Q305,961 220,930L220,1104Q371,1175 484,1276Q597,1377 644,1472L763,1472Z" transform="translate(68.88,38.10) scale(0.014893,-0.014893)"/>
<text x="85.84" y="38.10" font-size="30.5" xml:space="preserve">2</text>
<text x="90.16" y="469.00" font-size="30.5" xml:space="preserve">400</text>
<text x="224.45" y="469.00" font-size="30.5" xml:space="preserve">600</text>
<text x="358.74" y="469.00" font-size="30.5" xml:space="preserve">800</text>
<path d="M763,0L583,0L583,1147Q518,1085 412,1023Q305,961 220,930L220,1104Q371,1175 484,1276Q597,1377 644,1472L763,1472Z" transform="translate(484.55,469.00) scale(0.014893,-0.014893)"/>
<text x="501.50" y="469.00" font-size="30.5" xml:space="preserve">000</text>
<path d="M763,0L583,0L583,1147Q518,1085 412,1023Q305,961 220,930L220,1104Q371,1175 484,1276Q597,1377 644,1472L763,1472Z" transform="translate(618.83,469.00) scale(0.014893,-0.014893)"/>
<text x="635.79" y="469.00" font-size="30.5" xml:space="preserve">200</text>
<path d="M763,0L583,0L583,1147Q518,1085 412,1023Q305,961 220,930L220,1104Q371,1175 484,1276Q597,1377 644,1472L763,1472Z" transform="translate(68.88,530.55) scale(0.014893,-0.014893)"/>
<text x="85.84" y="530.55" font-size="30.5" xml:space="preserve">0</text>
<text x="85.84" y="611.22" font-size="30.5" xml:space="preserve">0</text>
<text x="58.73" y="691.89" font-size="30.5" xml:space="preserve">-</text>
<path d="M763,0L583,0L583,1147Q518,1085 412,1023Q305,961 220,930L220,1104Q371,1175 484,1276Q597,1377 644,1472L763,1472Z" transform="translate(68.88,691.89) scale(0.014893,-0.014893)"/>
<text x="85.84" y="691.89" font-size="30.5" xml:space="preserve">0</text>
<text x="58.73" y="772.56" font-size="30.5" xml:space="preserve">-20</text>
<text x="58.73" y="853.23" font-size="30.5" xml:space="preserve">-30</text>
<text x="58.73" y="933.90" font-size="30.5" xml:space="preserve">-40</text>
<text x="166.78" y="962.00" font-size="30.5" xml:space="preserve">600</text>
<text x="320.21" y="962.00" font-size="30.5" xml:space="preserve">800</text>
<path d="M763,0L583,0L583,1147Q518,1085 412,1023Q305,961 220,930L220,1104Q371,1175 484,1276Q597,1377 644,1472L763,1472Z" transform="translate(465.16,962.00) scale(0.014893,-0.014893)"/>
<text x="482.11" y="962.00" font-size="30.5" xml:space="preserve">000</text>
<path d="M763,0L583,0L583,1147Q518,1085 412,1023Q305,961 220,930L220,1104Q371,1175 484,1276Q597,1377 644,1472L763,1472Z" transform="translate(618.58,962.00) scale(0.014893,-0.014893)"/>
<text x="635.54" y="962.00" font-size="30.5" xml:space="preserve">200</text>
<text x="384.0" y="502.5" font-size="34.4" text-anchor="middle">Wavelength (nm)</text>
<text x="384.0" y="993.8" font-size="34.4" text-anchor="middle">Wavelength (nm)</text>
<text transform="translate(55.2,222.7) rotate(-90)" font-size="34.2" text-anchor="middle">EQE (%)</text>
<text transform="translate(47.2,722.3) rotate(-90)" font-size="34.2" text-anchor="middle">Crosstalk (dB)</text>
<text x="12.3" y="32.8" font-size="44">(</text>
<text x="26.6" y="32.8" font-size="44">a</text>
<text x="54.5" y="32.8" font-size="44">)</text>
<text x="-3.5" y="525.6" font-size="44">(</text>
<text x="12.4" y="525.6" font-size="44">b</text>
<text x="38.9" y="525.6" font-size="44">)</text>
<path d="M129.2,48.4H188.4" stroke="#FF7F00" stroke-width="4.4" stroke-linecap="round"/>
<circle cx="158.5" cy="48.3" r="8.4" fill="#fff" stroke="#FF7F00" stroke-width="3.1"/>
<path d="M129.2,80.7H188.4" stroke="#3D51CF" stroke-width="4.4" stroke-linecap="round"/>
<rect x="151.20000000000002" y="73.6" width="14.4" height="14.4" fill="#fff" stroke="#3D51CF" stroke-width="3.3" stroke-linejoin="round"/>
<text x="195.0" y="57.6" font-size="26.8" xml:space="preserve"> 3.0 V</text>
<text x="195.0" y="90.0" font-size="26.8">-3.0 V</text>
<circle cx="547.9" cy="555.5" r="5.2" fill="#fff" stroke="#800000" stroke-width="3.1"/>
<text transform="translate(565.8,566.2) scale(0.86,1)" font-size="33" font-style="italic">C</text>
<text x="586" y="553" font-size="20">-3.0 V</text>
<text x="586" y="573.4" font-size="20">3.0 V</text>
</svg></body></html>
